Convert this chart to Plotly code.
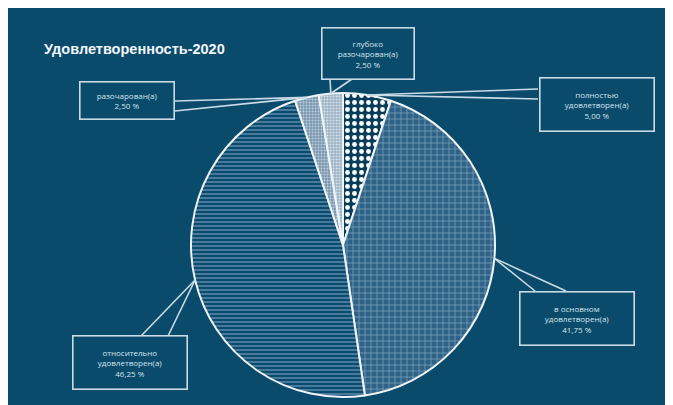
import math
import plotly.graph_objects as go

# ---- data ----
labels = ["полностью<br>удовлетворен(а)", "в основном<br>удовлетворен(а)",
          "относительно<br>удовлетворен(а)", "разочарован(а)",
          "глубоко<br>разочарован(а)"]
values = [5.00, 41.75, 46.25, 2.50, 2.50]
value_text = ["5,00 %", "41,75 %", "46,25 %", "2,50 %", "2,50 %"]
title_text = "Удовлетворенность-2020"

# ---- style ----
W, H = 673, 405
OFF = 8                            # page body margin offset (screen px)
BG = "#0a4b6c"
CX, CY, R = 343, 245, 152          # pie centre / radius in screen pixels
shapes_p = [".", "+", "-", ".", "."]
fg = ["#ffffff", "#9dbad0", "#6893b1", "#bfcfdb", "#d9e4eb"]
bg = ["#083d5a", "#2e6286", "#0b4b6f", "#7b99b0", "#9db3c4"]
psize = [7, 6, 4, 3, 3]
psol = [0.38, 0.16, 0.33, 0.35, 0.35]

def fx(px):
    return (px - OFF) / W

def fy(py):
    return 1 - (py - OFF) / H

# label boxes: centre (px), box size (px), two attachment points on box edge (px)
boxes = [
    dict(c=(597, 104), s=(113, 52), a=[(538, 89), (538, 99)]),
    dict(c=(577, 318), s=(113, 52), a=[(535, 291), (566, 291)]),
    dict(c=(130, 362), s=(113, 52), a=[(141, 336), (168, 336)]),
    dict(c=(127, 100), s=(93, 36), a=[(175, 101), (175, 111)]),
    dict(c=(368, 53), s=(91, 50), a=[(330, 79), (352, 79)]),
]

fig = go.Figure(go.Pie(
    labels=labels, values=values, sort=False, direction="clockwise", rotation=0,
    textinfo="none", hoverinfo="label+percent", showlegend=False,
    domain=dict(x=[fx(CX - R), fx(CX + R)], y=[fy(CY + R), fy(CY - R)]),
    marker=dict(colors=bg, line=dict(color="#eef4f8", width=2),
                pattern=dict(shape=shapes_p, fgcolor=fg, bgcolor=bg, size=psize,
                             solidity=psol, fillmode="replace")),
))

shapes = []
annotations = [dict(text=f"<b>{title_text}</b>", x=fx(42), y=fy(49), xref="paper", yref="paper",
                    xanchor="left", yanchor="middle", showarrow=False,
                    font=dict(family="Liberation Sans, Arial, sans-serif",
                              size=14.5, color="#f2f6f9"))]

total = sum(values)
cum = 0
for i, v in enumerate(values):
    mid = (cum + v / 2) / total * 2 * math.pi
    cum += v
    tx = CX + R * math.sin(mid)
    ty = CY - R * math.cos(mid)
    b = boxes[i]
    for (px, py) in b["a"]:
        shapes.append(dict(type="line", xref="paper", yref="paper",
                           x0=fx(px), y0=fy(py), x1=fx(tx), y1=fy(ty),
                           line=dict(color="#c9dbe6", width=1.6)))
    annotations.append(dict(
        text=f"{labels[i]}<br>{value_text[i]}", x=fx(b["c"][0]), y=fy(b["c"][1]),
        xref="paper", yref="paper", showarrow=False, xanchor="center", yanchor="middle",
        width=b["s"][0], height=b["s"][1], borderpad=0, bordercolor="#c9dbe6", borderwidth=1.6,
        bgcolor=BG, align="center",
        font=dict(family="Open Sans, Roboto, DejaVu Sans", size=8, color="#d4e3ec")))

fig.update_layout(width=W, height=H, margin=dict(l=0, r=0, t=0, b=0),
                  paper_bgcolor=BG, plot_bgcolor=BG,
                  shapes=shapes, annotations=annotations)
fig.write_html("out.html")
